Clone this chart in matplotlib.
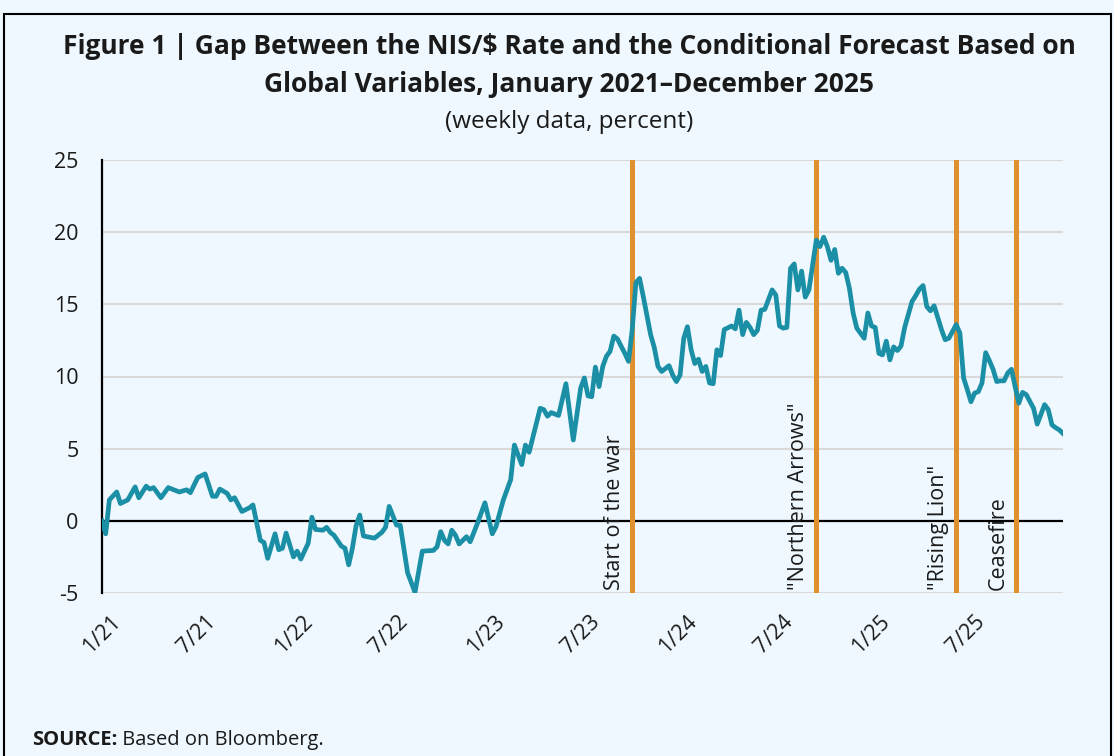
import numpy as np
import pandas as pd
import matplotlib
matplotlib.use("Agg")
import matplotlib.pyplot as plt
import matplotlib.transforms as mtransforms
from matplotlib.patches import Rectangle

# weekly data: week offset from 1 Jan 2021 -> gap (percent)
weeks = [0, 1, 2, 4, 5, 7, 9, 10, 12, 13, 14, 16, 18, 21, 23, 24, 26, 28, 30, 31,
         32, 34, 35, 36, 38, 40, 41, 43, 44, 45, 47, 48, 49, 50, 52, 53, 54, 56, 57, 58,
         60, 61, 62, 63, 65, 66, 67, 68, 69, 70, 71, 73, 74, 76, 77, 78, 80, 81, 83, 85,
         87, 90, 91, 92, 93, 94, 95, 96, 97, 99, 100, 102, 104, 106, 107, 109, 111, 112, 114, 115,
         116, 119, 120, 121, 122, 124, 126, 128, 130, 131, 132, 133, 134, 135, 136, 137, 138, 139, 140, 142,
         143, 144, 145, 146, 147, 149, 150, 151, 152, 154, 155, 156, 157, 158, 159, 160, 161, 162, 163, 164,
         165, 166, 167, 168, 169, 171, 172, 173, 174, 175, 176, 177, 178, 179, 180, 182, 183, 184, 185, 186,
         187, 188, 189, 190, 191, 192, 194, 195, 196, 197, 198, 199, 200, 201, 202, 203, 204, 205, 207, 208,
         209, 210, 211, 212, 213, 214, 215, 216, 217, 218, 220, 221, 222, 223, 224, 225, 226, 228, 229, 230,
         232, 233, 234, 235, 236, 237, 238, 239, 240, 241, 242, 243, 244, 245, 246, 247, 248, 249, 250, 251,
         253, 254, 256, 257, 258, 259, 260, 261]
gap = [0.0, -0.9, 1.45, 2.0, 1.2, 1.45, 2.35, 1.6, 2.4, 2.2, 2.3, 1.6, 2.3, 2.0, 2.15, 1.95, 3.0, 3.25, 1.7, 1.7,
       2.2, 1.9, 1.45, 1.6, 0.65, 0.9, 1.1, -1.35, -1.5, -2.6, -0.9, -2.0, -1.9, -0.85, -2.5, -2.1, -2.65, -1.55, 0.25, -0.6,
       -0.65, -0.45, -0.8, -1.0, -1.75, -1.9, -3.05, -1.9, -0.35, 0.4, -1.05, -1.15, -1.2, -0.8, -0.45, 1.0, -0.3, -0.3, -3.6, -4.95,
       -2.1, -2.05, -1.8, -0.75, -1.35, -1.6, -0.65, -1.0, -1.6, -1.1, -1.45, -0.15, 1.25, -0.9, -0.4, 1.45, 2.85, 5.25, 3.9, 5.25,
       4.75, 7.8, 7.7, 7.25, 7.5, 7.3, 9.5, 5.6, 9.2, 9.9, 8.65, 8.6, 10.65, 9.3, 10.7, 11.4, 11.75, 12.8, 12.6, 11.6,
       11.05, 13.25, 16.5, 16.8, 15.55, 12.9, 12.0, 10.7, 10.35, 10.75, 10.1, 9.65, 10.1, 12.65, 13.45, 11.85, 10.9, 11.2, 10.35, 10.7,
       9.55, 9.5, 11.85, 11.45, 13.25, 13.5, 13.3, 14.6, 12.9, 13.75, 13.4, 12.9, 13.2, 14.6, 14.65, 16.0, 15.65, 13.5, 13.35, 13.4,
       17.5, 17.8, 16.0, 17.3, 15.5, 16.0, 19.45, 19.0, 19.65, 19.0, 18.05, 18.8, 17.15, 17.5, 17.2, 16.1, 14.4, 13.35, 12.65, 14.4,
       13.5, 13.4, 11.6, 11.5, 12.45, 11.15, 12.05, 11.8, 12.1, 13.4, 15.2, 15.6, 16.05, 16.3, 14.85, 14.55, 14.9, 13.25, 12.55, 12.65,
       13.6, 13.0, 9.9, 9.1, 8.25, 8.85, 8.95, 9.55, 11.65, 11.1, 10.5, 9.65, 9.7, 9.7, 10.25, 10.5, 9.3, 8.15, 8.9, 8.75,
       7.8, 6.7, 8.05, 7.7, 6.65, 6.45, 6.3, 6.05]

events = ["Start of the war", '"Northern Arrows"', '"Rising Lion"', "Ceasefire"]
event_dates = ["2023-10-05", "2024-09-20", "2025-06-13", "2025-10-04"]

tick_dates = ["2021-01-01", "2021-07-01", "2022-01-01", "2022-07-01", "2023-01-01",
              "2023-07-01", "2024-01-01", "2024-07-01", "2025-01-01", "2025-07-01"]
tick_labels = ["1/21", "7/21", "1/22", "7/22", "1/23", "7/23", "1/24", "7/24", "1/25", "7/25"]

BG = "#EFF8FE"
TEAL = "#1A8FA5"
ORANGE = "#E0912F"
TXT = "#1a1a1a"

plt.rcParams["font.family"] = ["Open Sans", "DejaVu Sans"]
plt.rcParams["axes.unicode_minus"] = False

dates = pd.Timestamp("2021-01-01") + pd.to_timedelta(np.array(weeks) * 7, unit="D")

fig = plt.figure(figsize=(11.14, 7.56), dpi=100, facecolor=BG)
fig.patches.append(Rectangle((4 / 1114, -0.05), 1107 / 1114, 1 - 14 / 756 + 0.05,
                             transform=fig.transFigure, fill=False, edgecolor="black", linewidth=1.5))

ax = fig.add_axes([102 / 1114, 1 - 593 / 756, (1063 - 102) / 1114, (593 - 160) / 756])
ax.set_facecolor(BG)

ax.set_ylim(-5, 25)
ax.set_yticks(range(-5, 26, 5))
ax.grid(axis="y", color="#D9D9D9", linewidth=1.5)
ax.set_axisbelow(True)
ax.axhline(0, color="black", linewidth=1.6, zorder=2)

for s in ["top", "right", "bottom"]:
    ax.spines[s].set_visible(False)
ax.spines["left"].set_linewidth(1.6)

ax.plot(dates, gap, color=TEAL, linewidth=3.4, solid_joinstyle="round", zorder=4)

for name, d in zip(events, event_dates):
    d = pd.Timestamp(d)
    ax.axvline(d, color=ORANGE, linewidth=3.6, zorder=3)
    ax.annotate(name, xy=(d, -5), xytext=(-5, 2), textcoords="offset points",
                rotation=90, ha="right", va="bottom", fontsize=15.5, color=TXT)

ax.set_xlim(dates[0], dates[-1])
ax.set_xticks(pd.to_datetime(tick_dates))
ax.set_xticklabels(tick_labels, rotation=45, ha="center", fontsize=15.5, color=TXT)
shift = mtransforms.ScaledTranslation(12 / 100, 0, fig.dpi_scale_trans)
for lbl in ax.get_xticklabels():
    lbl.set_transform(lbl.get_transform() + shift)
ax.tick_params(axis="x", length=0, pad=13)
ax.tick_params(axis="y", length=0, pad=17, labelsize=15.5, labelcolor=TXT)

fig.text(569 / 1114, 1 - 47 / 756, "Figure 1 | Gap Between the NIS/\\$ Rate and the Conditional Forecast Based on",
         ha="center", va="center", fontsize=19, fontweight="bold", color=TXT)
fig.text(569 / 1114, 1 - 85 / 756, "Global Variables, January 2021\u2013December 2025",
         ha="center", va="center", fontsize=19, fontweight="bold", color=TXT)
fig.text(569 / 1114, 1 - 122 / 756, "(weekly data, percent)",
         ha="center", va="center", fontsize=17.5, color=TXT)

src = fig.text(32 / 1114, 1 - 740 / 756, "SOURCE:", ha="left", va="center",
               fontsize=14.5, fontweight="bold", color=TXT)
ax.annotate(" Based on Bloomberg.", xy=(1, 0.5), xycoords=src, ha="left", va="center",
            fontsize=14.5, color=TXT, annotation_clip=False)

fig.savefig("out.png", dpi=100, facecolor=BG)
